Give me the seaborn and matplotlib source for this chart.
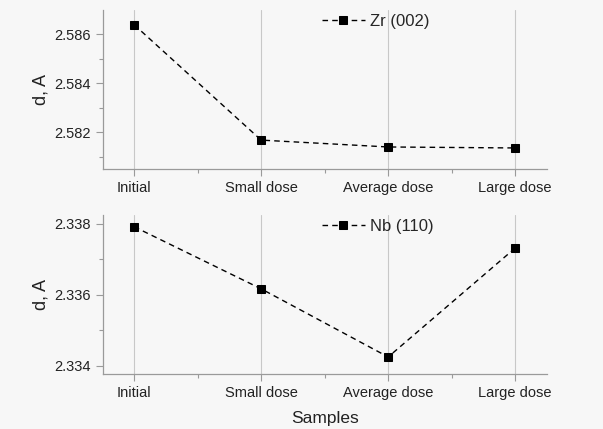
import matplotlib
matplotlib.use("Agg")
import matplotlib.pyplot as plt
import seaborn as sns
import pandas as pd
from matplotlib.ticker import MultipleLocator, FixedLocator

samples = ["Initial", "Small dose", "Average dose", "Large dose"]
zr_002 = [2.58638, 2.58167, 2.58139, 2.58135]
nb_110 = [2.33792, 2.33617, 2.33425, 2.33732]

sns.set_theme(style="white")
plt.rcParams["font.family"] = ["Liberation Sans", "DejaVu Sans"]

bg = "#f7f7f7"
axis_col = "#9a9a9a"

fig = plt.figure(figsize=(6.03, 4.29), dpi=100, facecolor=bg)
ax1 = fig.add_axes([0.1708, 0.606, 0.7363, 0.3707])
ax2 = fig.add_axes([0.1708, 0.1282, 0.7363, 0.3706])

panels = [
    (ax1, zr_002, "Zr (002)", (2.58049, 2.58698), 0.002, 0.001),
    (ax2, nb_110, "Nb (110)", (2.33377, 2.33825), 0.002, 0.001),
]

for ax, vals, name, ylim, major, minor in panels:
    df = pd.DataFrame({"pos": range(len(samples)), "d": vals, "series": name})
    ax.set_facecolor(bg)
    sns.lineplot(data=df, x="pos", y="d", hue="series", palette=["black"],
                 linestyle=(0, (4, 3)), linewidth=1.0, marker="s",
                 markersize=5.5, markeredgecolor="black", ax=ax)
    ax.set_xlim(-0.245, 3.25)
    ax.set_ylim(*ylim)
    ax.xaxis.set_major_locator(FixedLocator(range(len(samples))))
    ax.set_xticklabels(samples)
    ax.xaxis.set_minor_locator(FixedLocator([0.5, 1.5, 2.5]))
    ax.yaxis.set_major_locator(MultipleLocator(major))
    ax.yaxis.set_minor_locator(MultipleLocator(minor))
    ax.yaxis.set_major_formatter(matplotlib.ticker.FormatStrFormatter("%.3f"))
    ax.grid(axis="x", which="major", color="#c8c8c8", linewidth=0.8)
    ax.set_axisbelow(True)
    for side in ("top", "right"):
        ax.spines[side].set_visible(False)
    for side in ("left", "bottom"):
        ax.spines[side].set_color(axis_col)
        ax.spines[side].set_linewidth(0.9)
    ax.tick_params(which="major", direction="out", length=5, width=0.8,
                   color=axis_col, labelsize=10.5, labelcolor="#222222",
                   bottom=True, left=True)
    ax.tick_params(which="minor", direction="out", length=3, width=0.8,
                   color=axis_col, bottom=True, left=True)
    ax.set_ylabel("d, A", fontsize=13, color="#222222", labelpad=4)
    ax.set_xlabel("")
    handles, labels = ax.get_legend_handles_labels()
    ax.legend(handles, labels, loc="upper left", bbox_to_anchor=(0.47, 1.04),
              frameon=False, fontsize=12, handlelength=2.6, handletextpad=0.3,
              borderaxespad=0.2)

ax2.set_xlabel("Samples", fontsize=12.5, color="#222222", labelpad=8)

fig.savefig("out.png", dpi=100, facecolor=bg)
